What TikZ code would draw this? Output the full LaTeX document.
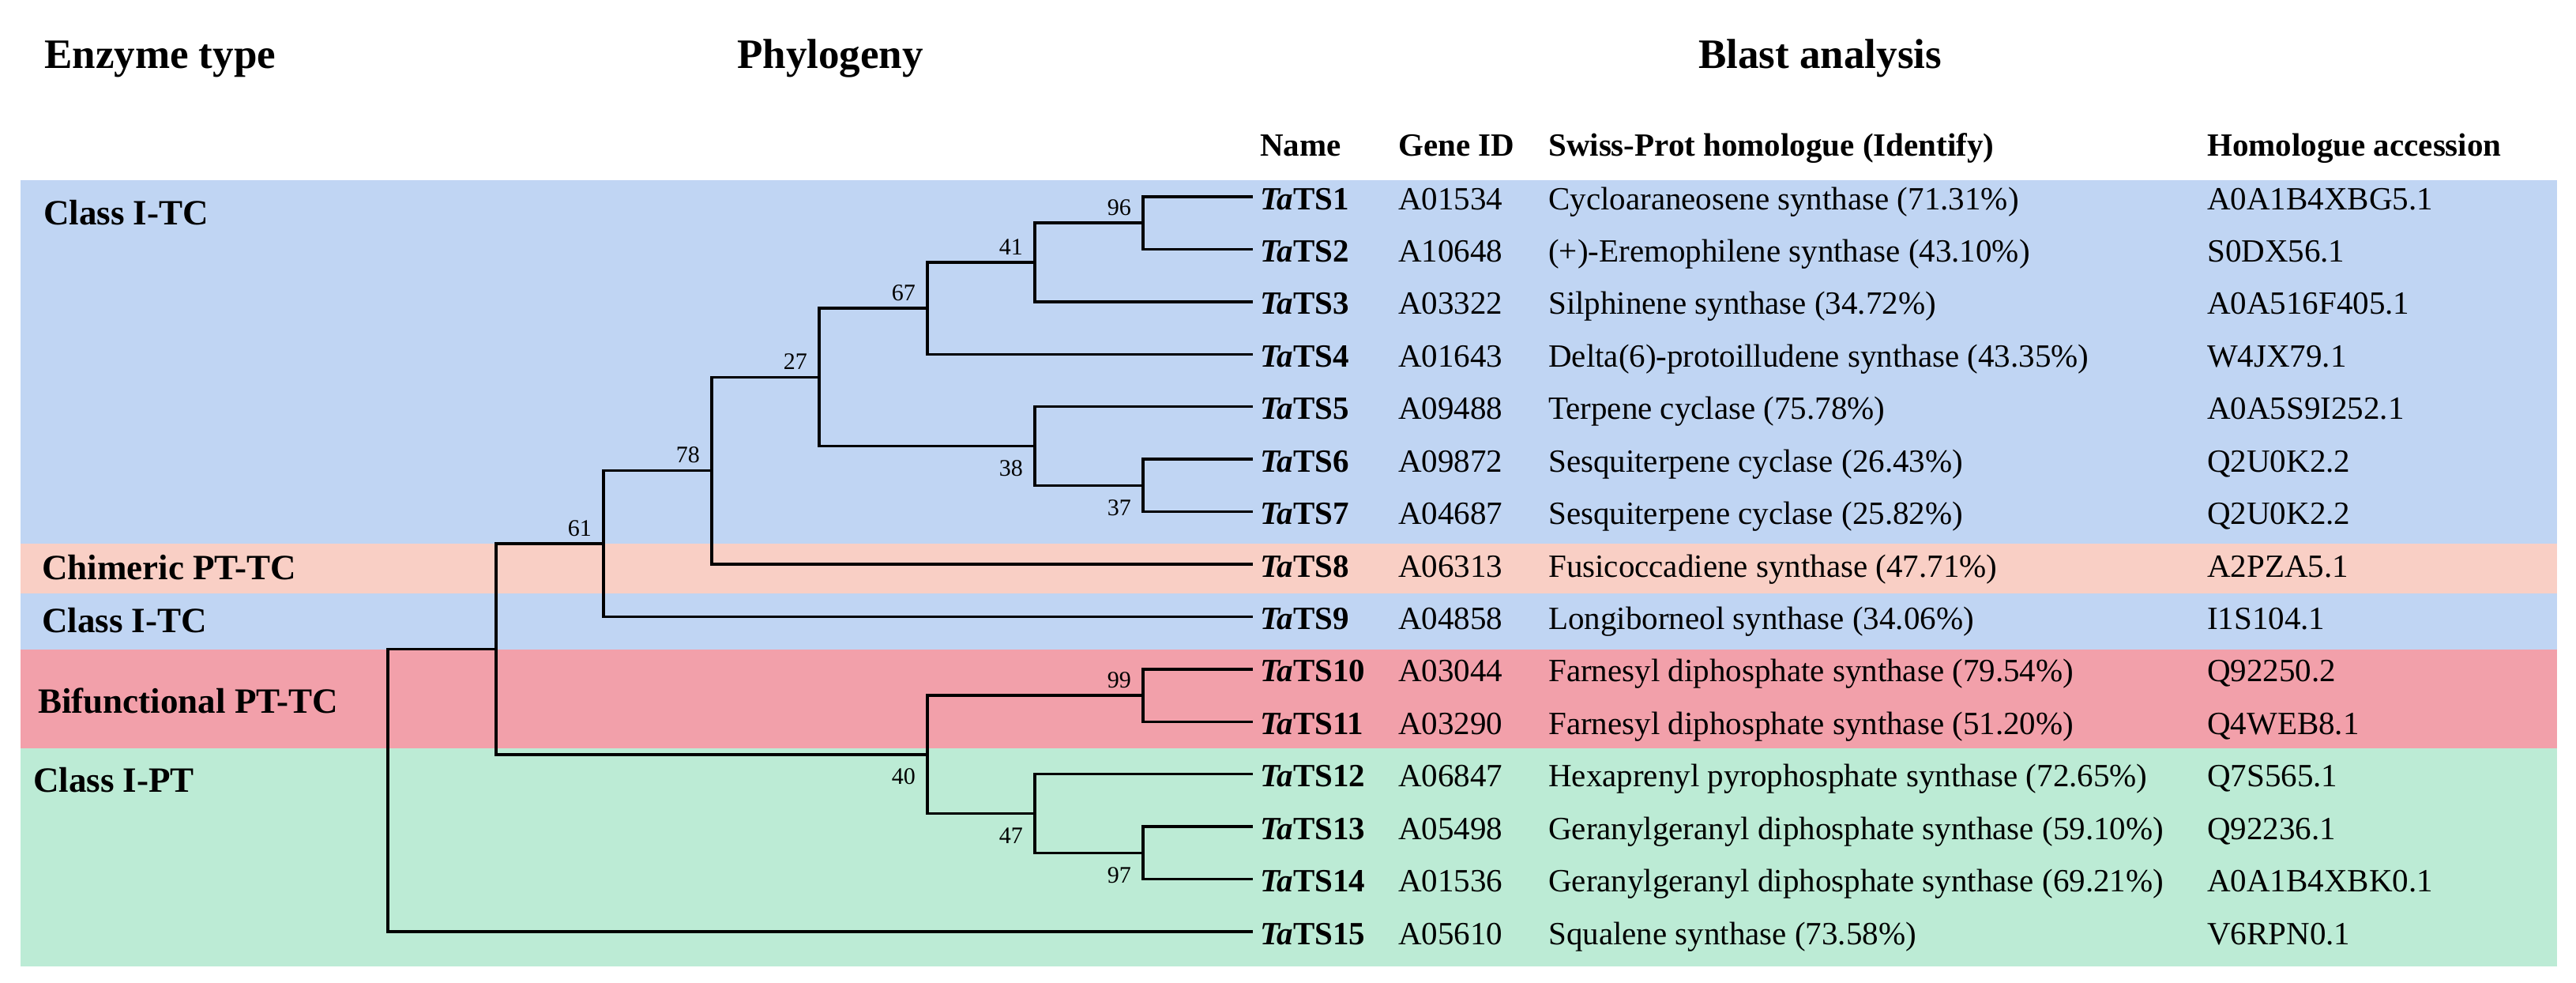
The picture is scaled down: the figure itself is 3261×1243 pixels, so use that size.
\documentclass[tikz,border=0pt]{standalone}
\usepackage{fontspec}
\setmainfont{Liberation Serif}
\definecolor{bandblue}{RGB}{192,213,243}
\definecolor{bandpink}{RGB}{249,207,197}
\definecolor{bandred}{RGB}{242,160,170}
\definecolor{bandgreen}{RGB}{188,235,213}
\tikzset{
  branch/.style={line width=3.5pt, line join=miter, line cap=butt},
  hdr/.style={font=\fontsize{53}{60}\selectfont\bfseries, anchor=base west, inner sep=0pt},
  grp/.style={font=\fontsize{45}{52}\selectfont\bfseries, anchor=base west, inner sep=0pt},
  cell/.style={font=\fontsize{41}{48}\selectfont, anchor=base west, inner sep=0pt},
  colhdr/.style={font=\fontsize{41}{48}\selectfont\bfseries, anchor=base west, inner sep=0pt},
  gname/.style={font=\fontsize{41}{48}\selectfont\bfseries, anchor=base west, inner sep=0pt},
  bootup/.style={font=\fontsize{30}{34}\selectfont, anchor=base east, inner sep=0pt, xshift=-15pt, yshift=10pt},
  bootdn/.style={font=\fontsize{30}{34}\selectfont, anchor=base east, inner sep=0pt, xshift=-15pt, yshift=-38pt},
}
\newcommand{\Ta}[1]{\textit{Ta}TS#1}
\begin{document}
\begin{tikzpicture}[x=1pt,y=-1pt]
\useasboundingbox (0,0) rectangle (3261,1243);
\fill[white] (0,0) rectangle (3261,1243);
% colour bands
\fill[bandblue]  (26,228) rectangle (3237,688);
\fill[bandpink]  (26,688) rectangle (3237,751);
\fill[bandblue]  (26,751) rectangle (3237,822);
\fill[bandred]   (26,822) rectangle (3237,947);
\fill[bandgreen] (26,947) rectangle (3237,1223);

% headers
\node[hdr] (hEnz) at (56,86) {Enzyme type};
\node[hdr] (hPhy) at (933,86) {Phylogeny};
\node[hdr] (hBla) at (2150,86) {Blast analysis};
\node[colhdr] (cName) at (1595,197) {Name};
\node[colhdr] (cGene) at (1770,197) {Gene ID};
\node[colhdr] (cSwiss) at (1960,197) {Swiss-Prot homologue (Identify)};
\node[colhdr] (cAcc) at (2794,197) {Homologue accession};

% enzyme type labels
\node[grp] (g1) at (55,284) {Class I-TC};
\node[grp] (g2) at (53,733) {Chimeric PT-TC};
\node[grp] (g3) at (53,800) {Class I-TC};
\node[grp] (g4) at (48,902) {Bifunctional PT-TC};
\node[grp] (g5) at (42,1002) {Class I-PT};

% leaf ends
\coordinate (l1) at (1586,249);
\coordinate (l2) at (1586,315.4);
\coordinate (l3) at (1586,381.9);
\coordinate (l4) at (1586,448.3);
\coordinate (l5) at (1586,514.7);
\coordinate (l6) at (1586,581.2);
\coordinate (l7) at (1586,647.6);
\coordinate (l8) at (1586,714.0);
\coordinate (l9) at (1586,780.4);
\coordinate (l10) at (1586,846.9);
\coordinate (l11) at (1586,913.3);
\coordinate (l12) at (1586,979.7);
\coordinate (l13) at (1586,1046.2);
\coordinate (l14) at (1586,1112.6);
\coordinate (l15) at (1586,1179.0);
% internal nodes
\coordinate (A) at (1447,282.2);
\coordinate (B) at (1310,332.1);
\coordinate (C) at (1174,390.2);
\coordinate (D) at (1447,614.4);
\coordinate (E) at (1310,564.6);
\coordinate (F) at (1037,477.4);
\coordinate (G) at (901,595.7);
\coordinate (H) at (764,688.1);
\coordinate (I) at (1447,880.1);
\coordinate (J) at (1447,1079.4);
\coordinate (K) at (1310,1029.6);
\coordinate (L) at (1174,954.8);
\coordinate (M) at (628,821.5);
\coordinate (N) at (491,1000.2);

% branches
\draw[branch] (l1) -| (A) |- (l2);
\draw[branch] (A) -| (B) |- (l3);
\draw[branch] (B) -| (C) |- (l4);
\draw[branch] (l6) -| (D) |- (l7);
\draw[branch] (l5) -| (E) |- (D);
\draw[branch] (C) -| (F) |- (E);
\draw[branch] (F) -| (G) |- (l8);
\draw[branch] (G) -| (H) |- (l9);
\draw[branch] (l10) -| (I) |- (l11);
\draw[branch] (l13) -| (J) |- (l14);
\draw[branch] (l12) -| (K) |- (J);
\draw[branch] (I) -| (L) |- (K);
\draw[branch] (H) -| (M) |- (L);
\draw[branch] (M) -| (N) |- (l15);

% bootstrap values
\node[bootup] (bA) at (A) {96};
\node[bootup] (bB) at (B) {41};
\node[bootup] (bC) at (C) {67};
\node[bootup] (bF) at (F) {27};
\node[bootup] (bG) at (G) {78};
\node[bootup] (bH) at (H) {61};
\node[bootdn] (bE) at (E) {38};
\node[bootdn] (bD) at (D) {37};
\node[bootup] (bI) at (I) {99};
\node[bootdn] (bL) at (L) {40};
\node[bootdn] (bK) at (K) {47};
\node[bootdn] (bJ) at (J) {97};

% table rows
\foreach \i/\y/\gid/\hom/\acc in {
 1/249/A01534/{Cycloaraneosene synthase (71.31\%)}/A0A1B4XBG5.1,
 2/315.4/A10648/{(+)-Eremophilene synthase (43.10\%)}/S0DX56.1,
 3/381.9/A03322/{Silphinene synthase (34.72\%)}/A0A516F405.1,
 4/448.3/A01643/{Delta(6)-protoilludene synthase (43.35\%)}/W4JX79.1,
 5/514.7/A09488/{Terpene cyclase (75.78\%)}/A0A5S9I252.1,
 6/581.2/A09872/{Sesquiterpene cyclase (26.43\%)}/Q2U0K2.2,
 7/647.6/A04687/{Sesquiterpene cyclase (25.82\%)}/Q2U0K2.2,
 8/714.0/A06313/{Fusicoccadiene synthase (47.71\%)}/A2PZA5.1,
 9/780.4/A04858/{Longiborneol synthase (34.06\%)}/I1S104.1,
 10/846.9/A03044/{Farnesyl diphosphate synthase (79.54\%)}/Q92250.2,
 11/913.3/A03290/{Farnesyl diphosphate synthase (51.20\%)}/Q4WEB8.1,
 12/979.7/A06847/{Hexaprenyl pyrophosphate synthase (72.65\%)}/Q7S565.1,
 13/1046.2/A05498/{Geranylgeranyl diphosphate synthase (59.10\%)}/Q92236.1,
 14/1112.6/A01536/{Geranylgeranyl diphosphate synthase (69.21\%)}/A0A1B4XBK0.1,
 15/1179.0/A05610/{Squalene synthase (73.58\%)}/V6RPN0.1}{
  \node[gname] (name\i) at (1595,\y+16) {\Ta{\i}};
  \node[cell] (gene\i) at (1770,\y+16) {\gid};
  \node[cell] (hom\i) at (1960,\y+16) {\hom};
  \node[cell] (acc\i) at (2794,\y+16) {\acc};
}
\end{tikzpicture}
\end{document}
